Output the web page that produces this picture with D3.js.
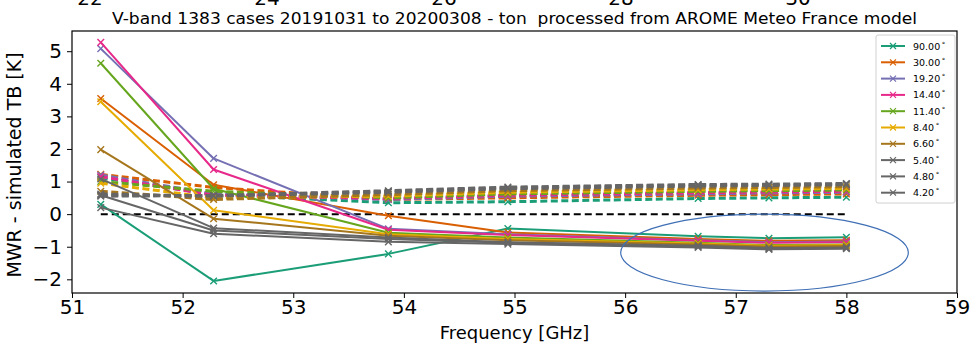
<!DOCTYPE html>
<html>
<head>
<meta charset="utf-8">
<script src="https://cdn.jsdelivr.net/npm/d3@7"></script>
<style>
  html, body { margin: 0; padding: 0; background: #fff; }
  svg { display: block; }
  text { font-family: "DejaVu Sans", sans-serif; fill: #000; }
</style>
</head>
<body>
<svg id="chart" width="971" height="345"></svg>
<script>
// V-band channel frequencies (GHz)
const frequencies = [51.26, 52.28, 53.86, 54.94, 56.66, 57.30, 58.00];

// Elevation angles (legend order) and their colours
const angles = ["90.00", "30.00", "19.20", "14.40", "11.40", "8.40", "6.60", "5.40", "4.80", "4.20"];
const colors = ["#1b9e77", "#d95f02", "#7570b3", "#e7298a", "#66a61e", "#e6ab02", "#a6761d", "#666666", "#666666", "#666666"];

// MWR minus simulated TB, one row per angle (solid lines)
const biasSolid = [
  [0.30, -2.05, -1.22, -0.44, -0.68, -0.74, -0.71],
  [3.55,  0.90, -0.05, -0.56, -0.76, -0.82, -0.80],
  [5.08,  1.71, -0.45, -0.62, -0.80, -0.86, -0.84],
  [5.27,  1.37, -0.48, -0.64, -0.82, -0.88, -0.86],
  [4.63,  0.78, -0.57, -0.72, -0.88, -0.95, -0.93],
  [3.45,  0.12, -0.62, -0.76, -0.90, -0.97, -0.95],
  [1.98, -0.14, -0.66, -0.80, -0.93, -1.00, -0.98],
  [1.08, -0.43, -0.72, -0.86, -0.97, -1.04, -1.02],
  [0.58, -0.50, -0.76, -0.88, -0.99, -1.06, -1.04],
  [0.20, -0.60, -0.85, -0.92, -1.02, -1.08, -1.06]
];

// Second statistic per angle (dashed lines)
const biasDashed = [
  [1.12, 0.60, 0.35, 0.38, 0.48, 0.50, 0.52],
  [1.22, 0.82, 0.45, 0.50, 0.58, 0.60, 0.62],
  [1.20, 0.62, 0.45, 0.55, 0.62, 0.65, 0.67],
  [1.15, 0.58, 0.48, 0.58, 0.66, 0.68, 0.70],
  [1.00, 0.70, 0.50, 0.62, 0.70, 0.72, 0.74],
  [0.95, 0.50, 0.55, 0.67, 0.75, 0.77, 0.79],
  [0.70, 0.45, 0.60, 0.72, 0.80, 0.82, 0.84],
  [0.62, 0.55, 0.67, 0.78, 0.86, 0.88, 0.90],
  [0.58, 0.56, 0.70, 0.81, 0.89, 0.90, 0.92],
  [0.55, 0.57, 0.72, 0.83, 0.91, 0.92, 0.94]
];

// Zero reference
const zeroLine = [0, 0, 0, 0, 0, 0, 0];

const xTicks = [51, 52, 53, 54, 55, 56, 57, 58, 59];
const yTicks = [-2, -1, 0, 1, 2, 3, 4, 5];
// Tick labels of the panel above, only their lower edge shows
const upperPanelTicks = ["22", "24", "26", "28", "30"];

// Highlight around the upper channels: centre (GHz, K) and half-widths
const highlight = { cx: 57.26, cy: -1.18, rx: 1.30, ry: 1.18 };

const titleText = "V-band 1383 cases 20191031 to 20200308 - ton  processed from AROME Meteo France model";

const svg = d3.select("#chart");
const m = { left: 72, right: 957, top: 31, bottom: 293 };

const x = d3.scaleLinear().domain([51, 59]).range([m.left, m.right]);
const y = d3.scaleLinear().domain([-2.42, 5.62]).range([m.bottom, m.top]);

// Upper panel tick labels, clipped by the top edge
svg.selectAll("text.upper")
  .data(upperPanelTicks)
  .join("text")
  .attr("class", "upper")
  .attr("x", (d, i) => 90 + i * 177)
  .attr("y", 5)
  .attr("text-anchor", "middle")
  .attr("font-size", 20)
  .text(d => d);

// Title
svg.append("text")
  .attr("x", (m.left + m.right) / 2)
  .attr("y", 24)
  .attr("text-anchor", "middle")
  .attr("font-size", 15)
  .attr("textLength", 805)
  .attr("lengthAdjust", "spacingAndGlyphs")
  .style("white-space", "pre")
  .text(titleText);

const plot = svg.append("g");

const line = d3.line()
  .x((d, i) => x(frequencies[i]))
  .y(d => y(d));

function drawMarkers(values, color, sw) {
  const s = 3.3;
  plot.append("g")
    .selectAll("path")
    .data(values)
    .join("path")
    .attr("d", (d, i) => {
      const cx = x(frequencies[i]), cy = y(d);
      return `M${cx - s},${cy - s}L${cx + s},${cy + s}M${cx - s},${cy + s}L${cx + s},${cy - s}`;
    })
    .attr("stroke", color)
    .attr("stroke-width", sw)
    .attr("fill", "none");
}

// Zero reference line
plot.append("path")
  .attr("d", line(zeroLine))
  .attr("fill", "none")
  .attr("stroke", "#000")
  .attr("stroke-width", 2)
  .attr("stroke-dasharray", "7,4");

angles.forEach((a, k) => {
  plot.append("path")
    .attr("d", line(biasSolid[k]))
    .attr("fill", "none")
    .attr("stroke", colors[k])
    .attr("stroke-width", 2)
    .attr("stroke-linejoin", "round");
  drawMarkers(biasSolid[k], colors[k], 1.4);

  plot.append("path")
    .attr("d", line(biasDashed[k]))
    .attr("fill", "none")
    .attr("stroke", colors[k])
    .attr("stroke-width", 3)
    .attr("stroke-dasharray", "7,3.5");
  drawMarkers(biasDashed[k], colors[k], 1.4);
});

// Highlight ellipse
svg.append("ellipse")
  .attr("cx", x(highlight.cx))
  .attr("cy", y(highlight.cy))
  .attr("rx", x(highlight.cx + highlight.rx) - x(highlight.cx))
  .attr("ry", y(highlight.cy - highlight.ry) - y(highlight.cy))
  .attr("fill", "none")
  .attr("stroke", "#3f6fb5")
  .attr("stroke-width", 1.2);

// Axes
const xAxis = svg.append("g")
  .attr("transform", `translate(0,${m.bottom})`)
  .call(d3.axisBottom(x).tickValues(xTicks).tickFormat(d3.format("d")).tickSize(5).tickPadding(2));
const yAxis = svg.append("g")
  .attr("transform", `translate(${m.left},0)`)
  .call(d3.axisLeft(y).tickValues(yTicks).tickFormat(d => d < 0 ? "\u2212" + Math.abs(d) : d).tickSize(5).tickPadding(5));
[xAxis, yAxis].forEach(g => {
  g.select(".domain").remove();
  g.selectAll("line").attr("stroke", "#000").attr("stroke-width", 1);
  g.selectAll("text").attr("font-family", "DejaVu Sans").attr("font-size", 20).attr("fill", "#000");
});

// Frame
svg.append("rect")
  .attr("x", m.left).attr("y", m.top)
  .attr("width", m.right - m.left).attr("height", m.bottom - m.top)
  .attr("fill", "none").attr("stroke", "#000").attr("stroke-width", 1.2);

// Axis titles
svg.append("text")
  .attr("x", (m.left + m.right) / 2)
  .attr("y", 339)
  .attr("text-anchor", "middle")
  .attr("font-size", 18)
  .text("Frequency [GHz]");

svg.append("text")
  .attr("transform", `translate(21,${(m.top + m.bottom) / 2 + 3}) rotate(-90)`)
  .attr("text-anchor", "middle")
  .attr("font-size", 19)
  .text("MWR - simulated TB [K]");

// Legend
const lg = svg.append("g").attr("transform", "translate(876,35)");
lg.append("rect")
  .attr("width", 79).attr("height", 168).attr("rx", 2)
  .attr("fill", "#fff").attr("fill-opacity", 0.85)
  .attr("stroke", "#d0d0d0").attr("stroke-width", 1);
const items = lg.selectAll("g.item")
  .data(angles)
  .join("g")
  .attr("class", "item")
  .attr("transform", (d, i) => `translate(0,${11 + i * 16.3})`);
items.append("line")
  .attr("x1", 5).attr("x2", 29)
  .attr("stroke", (d, i) => colors[i]).attr("stroke-width", 2);
items.append("path")
  .attr("d", "M14,-3L20,3M14,3L20,-3")
  .attr("stroke", (d, i) => colors[i]).attr("stroke-width", 1.2);
const lt = items.append("text")
  .attr("x", 37).attr("y", 3.5)
  .attr("font-size", 9.5);
lt.append("tspan").text(d => d);
lt.append("tspan").attr("dx", 1.5).attr("dy", -3).attr("font-size", 7).text("\u00b0");
</script>
</body>
</html>
